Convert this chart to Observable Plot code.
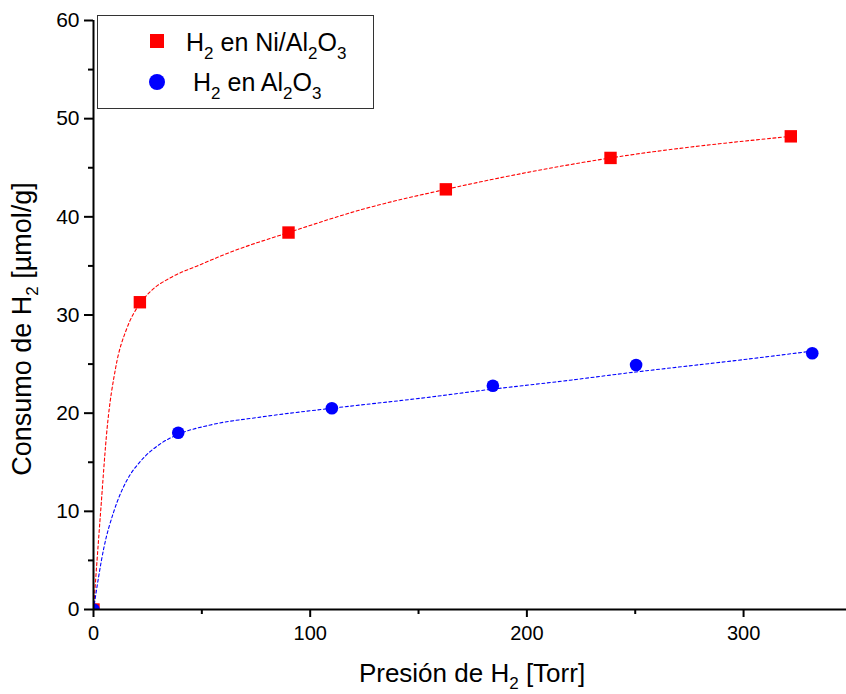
<!DOCTYPE html>
<html>
<head>
<meta charset="utf-8">
<script src="https://cdn.jsdelivr.net/npm/d3@7"></script>
<script src="https://cdn.jsdelivr.net/npm/@observablehq/plot@0.6"></script>
<style>
  html, body { margin: 0; padding: 0; background: #fff; }
  #wrap { position: relative; width: 846px; height: 694px; font-family: "Liberation Sans", Arial, sans-serif; }
  #legend { position: absolute; left: 97px; top: 15px; width: 275px; height: 92px; border: 1px solid #333; background: #fff; box-sizing: content-box; }
  .lg-row { position: absolute; font-size: 25px; color: #000; white-space: nowrap; line-height: 1; }
  .lg-row sub { font-size: 17px; vertical-align: -8px; line-height: 0; }
  .sq { position: absolute; width: 14px; height: 14px; background: #ff0000; }
  .ci { position: absolute; width: 16px; height: 16px; border-radius: 50%; background: #0000ff; }
</style>
</head>
<body>
<div id="wrap"></div>
<script>
// Measured data points
const niX = [0, 21.4, 90, 162.6, 238.6, 321.8];
const niY = [0, 31.3, 38.4, 42.8, 46.0, 48.2];
const alX = [0, 39.1, 110, 184.3, 250.4, 331.7];
const alY = [0, 18.0, 20.5, 22.8, 24.9, 26.1];

// Fitted (dashed) curves
const niFitX = [0, 3.2, 6.3, 10.2, 15.5, 20.9, 26.3, 35.5, 47.9, 63.2, 90, 124.7, 162.6, 238.6, 321.8];
const niFitY = [0, 9.7, 18.5, 24.6, 28.7, 31.0, 32.4, 33.8, 35.0, 36.4, 38.4, 40.8, 42.8, 46.0, 48.2];
const alFitX = [0, 4.8, 9.4, 15.5, 21.7, 31, 38.6, 54, 77, 110, 154, 178.6, 214, 250.4, 294, 331];
const alFitY = [0, 6.3, 10.0, 13.2, 15.1, 16.9, 17.8, 18.8, 19.6, 20.5, 21.6, 22.3, 23.2, 24.2, 25.3, 26.3];

// Tick values
const xMajor = [0, 100, 200, 300];
const xMinor = [50, 150, 250];
const yMajor = [0, 10, 20, 30, 40, 50, 60];
const yMinor = [5, 15, 25, 35, 45, 55];

const zip = (xs, ys) => xs.map((x, i) => ({x, y: ys[i]}));
const ni = zip(niX, niY), al = zip(alX, alY);
const niFit = zip(niFitX, niFitY), alFit = zip(alFitX, alFitY);

const chart = Plot.plot({
  width: 846,
  height: 694,
  marginLeft: 93,
  marginRight: 0,
  marginTop: 20,
  marginBottom: 85,
  x: {domain: [0, 347.5]},
  y: {domain: [0, 60]},
  style: {fontFamily: "'Liberation Sans', Arial, sans-serif", fontSize: "20px", color: "#000", background: "#fff", overflow: "visible"},
  marks: [
    Plot.axisX({ticks: xMajor, tickSize: 8, tickPadding: 8, strokeWidth: 2, label: null, fontSize: 20}),
    Plot.axisX({ticks: xMinor, tickSize: 5, tickFormat: () => "", strokeWidth: 2, label: null}),
    Plot.axisY({ticks: yMajor, tickSize: 9, tickPadding: 5, strokeWidth: 2, label: null, fontSize: 21}),
    Plot.axisY({ticks: yMinor, tickSize: 5, tickFormat: () => "", strokeWidth: 2, label: null}),
    Plot.line(niFit, {x: "x", y: "y", stroke: "#ff0000", strokeWidth: 1.1, strokeDasharray: "3,2.5", curve: "monotone-x"}),
    Plot.line(alFit, {x: "x", y: "y", stroke: "#0000ff", strokeWidth: 1.1, strokeDasharray: "3,2.5", curve: "monotone-x"}),
    Plot.dot(ni, {x: "x", y: "y", symbol: "square", r: 7, fill: "#ff0000", stroke: null, clip: true}),
    Plot.dot(al, {x: "x", y: "y", symbol: "circle", r: 6.3, fill: "#0000ff", stroke: null, clip: true}),
    Plot.ruleY([0], {stroke: "#000", strokeWidth: 2}),
    Plot.ruleX([0], {stroke: "#000", strokeWidth: 2})
  ]
});

const wrap = document.getElementById("wrap");
wrap.appendChild(chart);

// Axis titles with subscripts
const svg = d3.select(chart);
const xt = svg.append("text")
  .attr("x", 472).attr("y", 682)
  .attr("text-anchor", "middle")
  .attr("font-size", 26).attr("fill", "#000")
  .attr("font-family", "'Liberation Sans', Arial, sans-serif");
xt.append("tspan").text("Presión de H");
xt.append("tspan").attr("font-size", 17).attr("dy", 7).text("2");
xt.append("tspan").attr("dy", -7).text(" [Torr]");

const yt = svg.append("text")
  .attr("transform", "translate(31,329) rotate(-90)")
  .attr("text-anchor", "middle")
  .attr("font-size", 27).attr("fill", "#000")
  .attr("font-family", "'Liberation Sans', Arial, sans-serif");
yt.append("tspan").text("Consumo de H");
yt.append("tspan").attr("font-size", 17).attr("dy", 7).text("2");
yt.append("tspan").attr("dy", -7).text(" [µmol/g]");

// Legend
const legend = document.createElement("div");
legend.id = "legend";
legend.innerHTML = `
  <div class="sq" style="left:52px; top:18px;"></div>
  <div class="lg-row" style="left:88px; top:14px;">H<sub>2</sub> en Ni/Al<sub>2</sub>O<sub>3</sub></div>
  <div class="ci" style="left:51px; top:58px;"></div>
  <div class="lg-row" style="left:95px; top:54px;">H<sub>2</sub> en Al<sub>2</sub>O<sub>3</sub></div>
`;
wrap.appendChild(legend);
</script>
</body>
</html>
